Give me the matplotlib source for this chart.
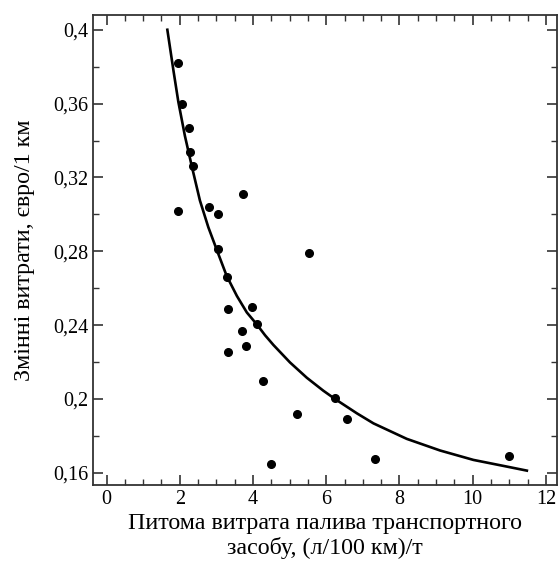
import matplotlib.pyplot as plt
from matplotlib.ticker import MultipleLocator, FuncFormatter

# Measured points
fuel_rate = [1.96, 2.05, 2.25, 2.28, 2.35, 1.96, 2.81, 3.05, 3.74, 3.05,
             3.30, 5.53, 3.33, 3.98, 4.10, 3.71, 3.81, 3.32, 4.28, 5.20,
             6.24, 6.56, 4.49, 7.34, 10.99]
var_cost = [0.382, 0.360, 0.347, 0.334, 0.326, 0.302, 0.304, 0.300, 0.311, 0.281,
            0.266, 0.279, 0.249, 0.250, 0.2405, 0.237, 0.2285, 0.2253, 0.210, 0.192,
            0.2004, 0.189, 0.165, 0.1675, 0.169]

# Fitted curve
curve_x = [1.66, 1.83, 1.96, 2.14, 2.33, 2.55, 2.78, 3.01, 3.28, 3.56, 3.83, 4.10,
           4.33, 4.56, 5.01, 5.47, 5.92, 6.24, 6.84, 7.29, 8.20, 9.11, 10.02, 10.93, 11.48]
curve_y = [0.400, 0.3775, 0.3610, 0.3425, 0.3259, 0.3075, 0.2930, 0.2808, 0.2667, 0.2558, 0.2469, 0.2405,
           0.2345, 0.2292, 0.2198, 0.2115, 0.2045, 0.2000, 0.1922, 0.1868, 0.1784, 0.1721, 0.1670, 0.1634, 0.1612]

plt.rcParams["font.family"] = ["Liberation Serif", "DejaVu Serif"]

fig = plt.figure(figsize=(5.58, 5.63), dpi=100)
ax = fig.add_axes([0.1667, 0.1385, 0.8313, 0.8349])

ax.plot(curve_x, curve_y, color="black", linewidth=1.9)
ax.plot(fuel_rate, var_cost, "o", color="black", markersize=5.5)

ax.set_xlim(-0.37, 12.3)
ax.set_ylim(0.1534, 0.408)

ax.xaxis.set_major_locator(MultipleLocator(2))
ax.xaxis.set_minor_locator(MultipleLocator(0.5))
ax.yaxis.set_major_locator(MultipleLocator(0.04))
ax.yaxis.set_minor_locator(MultipleLocator(0.02))


def comma_fmt(v, pos):
    s = "%.2f" % v
    s = s.rstrip("0").rstrip(".")
    return s.replace(".", ",")


ax.yaxis.set_major_formatter(FuncFormatter(comma_fmt))

ax.tick_params(which="both", direction="in", top=True, right=True, colors="#333333",
               labelcolor="black", labelsize=14.5)
ax.tick_params(which="major", length=7, width=1.2)
ax.tick_params(which="minor", length=4, width=1.0)
for sp in ax.spines.values():
    sp.set_color("#333333")
    sp.set_linewidth(1.3)

ax.set_xlabel("Питома витрата палива транспортного\nзасобу, (л/100 км)/т", fontsize=17.3,
              linespacing=1.15, labelpad=3)
ax.set_ylabel("Змінні витрати, євро/1 км", fontsize=17.3, labelpad=13)

fig.savefig("out.png", dpi=100)
